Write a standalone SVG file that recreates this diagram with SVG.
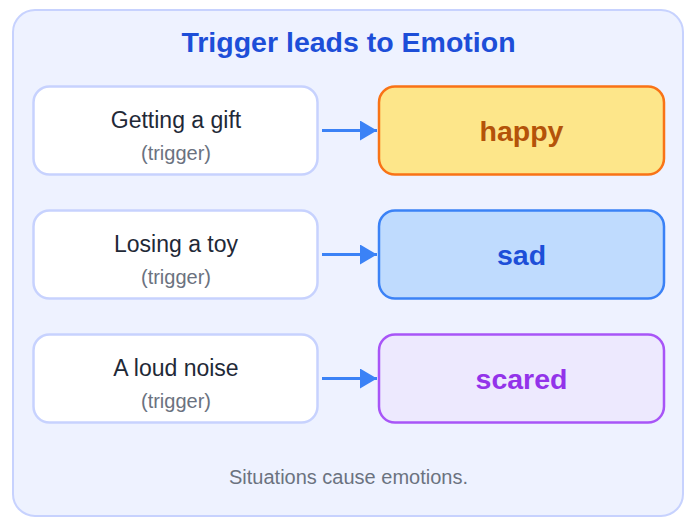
<svg xmlns="http://www.w3.org/2000/svg" width="689" height="517" viewBox="0 0 689 517">
<defs>
<style>
.bg{fill:#eef2ff;stroke:#c7d2fe;stroke-width:2}
.trig{fill:#ffffff;stroke:#c7d2fe;stroke-width:2.5}
.tl{font-family:"Liberation Sans",Arial,sans-serif;font-size:23px;fill:#1f2937;text-anchor:middle}
.ts{font-family:"Liberation Sans",Arial,sans-serif;font-size:20px;fill:#6b7280;text-anchor:middle}
.em{font-family:"Liberation Sans",Arial,sans-serif;font-size:28.5px;font-weight:bold;text-anchor:middle}
.conn{stroke:#3b82f6;stroke-width:3;fill:none}
</style>
<marker id="ah" markerWidth="17" markerHeight="20" refX="17" refY="10" orient="auto" markerUnits="userSpaceOnUse">
<path d="M0,0 L17,10 L0,20 Z" fill="#3b82f6"/>
</marker>
</defs>
<rect class="bg" x="13" y="10" width="670" height="506" rx="22"/>
<text x="348.5" y="52" font-family="'Liberation Sans',Arial,sans-serif" font-size="28.5" font-weight="bold" fill="#1d4ed8" text-anchor="middle">Trigger leads to Emotion</text>

<g id="t1"><rect class="trig" x="33.5" y="86.5" width="284" height="88" rx="16"/>
<text class="tl" x="176" y="128">Getting a gift</text><text class="ts" x="176" y="160">(trigger)</text></g>
<g id="t2"><rect class="trig" x="33.5" y="210.5" width="284" height="88" rx="16"/>
<text class="tl" x="176" y="252">Losing a toy</text><text class="ts" x="176" y="284">(trigger)</text></g>
<g id="t3"><rect class="trig" x="33.5" y="334.5" width="284" height="88" rx="16"/>
<text class="tl" x="176" y="376">A loud noise</text><text class="ts" x="176" y="408">(trigger)</text></g>

<g id="e1"><rect x="379" y="86.5" width="285" height="88" rx="16" fill="#fde68a" stroke="#f97316" stroke-width="2.5"/>
<text class="em" x="521.5" y="141" fill="#b45309">happy</text></g>
<g id="e2"><rect x="379" y="210.5" width="285" height="88" rx="16" fill="#bfdbfe" stroke="#3b82f6" stroke-width="2.5"/>
<text class="em" x="521.5" y="265" fill="#1d4ed8">sad</text></g>
<g id="e3"><rect x="379" y="334.5" width="285" height="88" rx="16" fill="#ede9fe" stroke="#a855f7" stroke-width="2.5"/>
<text class="em" x="521.5" y="389" fill="#9333ea">scared</text></g>

<g id="connectors">
<line class="conn" x1="322" y1="130.5" x2="377" y2="130.5" marker-end="url(#ah)"/>
<line class="conn" x1="322" y1="254.5" x2="377" y2="254.5" marker-end="url(#ah)"/>
<line class="conn" x1="322" y1="378.5" x2="377" y2="378.5" marker-end="url(#ah)"/>
</g>

<text x="348.5" y="484" font-family="'Liberation Sans',Arial,sans-serif" font-size="20" fill="#6b7280" text-anchor="middle">Situations cause emotions.</text>
</svg>
